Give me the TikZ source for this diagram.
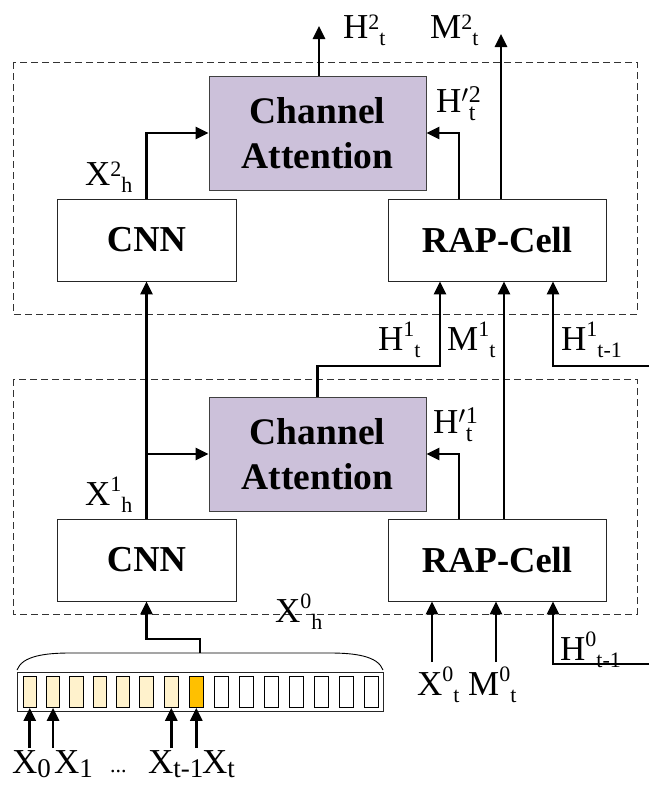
\documentclass[tikz,border=0pt]{standalone}
\usepackage{fontspec}
\setmainfont{Liberation Serif}
\usetikzlibrary{arrows.meta,calc}
\definecolor{cafill}{HTML}{CCC1DA}
\definecolor{seqfill}{HTML}{FFF2CC}
\definecolor{seqcur}{HTML}{FFC000}
\newcommand\ssz{\fontsize{22}{22}\selectfont}
\newcommand\psz{\fontsize{24}{24}\selectfont}
\newcommand\bsz{\fontsize{27}{27}\selectfont}
\newcommand\lbl[3]{#1\raisebox{9pt}{\ssz #2}\raisebox{-7pt}{\ssz #3}}
\newcommand\lblh[3]{#1\raisebox{14pt}{\ssz #2}\raisebox{-7pt}{\ssz #3}}
\newcommand\lblp[3]{#1$'$\rlap{\raisebox{10pt}{\psz #2}}\raisebox{-8pt}{\psz #3}}
\newcommand\lbs[2]{#1\raisebox{-4pt}{\bsz #2}}
\tikzset{
  blk/.style={draw=black!85, line width=0.9pt, fill=white, inner sep=0pt,
    font=\fontsize{36.5}{45}\selectfont\bfseries, align=center},
  cabox/.style={blk, draw=black!75, fill=cafill, font=\fontsize{37.5}{45}\selectfont\bfseries},
  grp/.style={draw=black!80, line width=0.8pt, dash pattern=on 7pt off 4pt},
  arr/.style={line width=2.6pt, -{Triangle[length=13pt,width=12pt]}},
  txt/.style={font=\fontsize{35}{38}\selectfont, inner sep=0pt, anchor=base west},
  cell/.style={draw=black, line width=0.8pt, inner sep=0pt, minimum width=13.3pt, minimum height=31pt}
}
\begin{document}
\begin{tikzpicture}[x=1pt,y=-1pt]
\useasboundingbox (0,0) rectangle (649,788);
% dashed groups
\draw[grp] (13,62) rectangle (637,314);
\draw[grp] (13,379) rectangle (637,614);
% blocks
\node[cabox, minimum width=217pt, minimum height=114pt] (ca1) at (317.5,133) {Channel\\Attention};
\node[blk, minimum width=179pt, minimum height=82pt] (cnn1) at (146.5,240) {CNN};
\node[blk, minimum width=218pt, minimum height=82pt] (rap1) at (497,240) {RAP-Cell};
\node[cabox, minimum width=217pt, minimum height=114pt] (ca2) at (317.5,454) {Channel\\Attention};
\node[blk, minimum width=179pt, minimum height=82pt] (cnn2) at (146.5,560) {CNN};
\node[blk, minimum width=218pt, minimum height=82pt] (rap2) at (497,560) {RAP-Cell};
% helper coordinates
\coordinate (h2) at (319,26);
\coordinate (m2) at (501,34);
\coordinate (hp) at (459,0);
\coordinate (b1) at (440,366);
\coordinate (m1) at (504,0);
\coordinate (hin1) at (649,366);
\coordinate (hx) at (553,0);
\coordinate (xt0) at (432,662);
\coordinate (mt0) at (496,662);
\coordinate (hin0) at (649,664);
% top layer connectors
\draw[arr] (ca1.north -| h2) -- (h2);
\draw[arr] (rap1.north -| m2) -- (m2);
\draw[arr] (rap1.north -| hp) |- (ca1.east);
\draw[arr] (cnn1.north) |- (ca1.west);
% between layers
\draw[arr] (cnn2.north) -- (cnn1.south);
\draw[arr] (cnn2.north |- ca2.west) -- (ca2.west);
\draw[arr] (ca2.north) |- (b1) -- (rap1.south -| b1);
\draw[arr] (rap2.north -| m1) -- (rap1.south -| m1);
\draw[arr] (hin1) -| (rap1.south -| hx);
\draw[arr] (rap2.north -| hp) |- (ca2.east);
% bottom inputs
\draw[arr] (xt0) -- (rap2.south -| xt0);
\draw[arr] (mt0) -- (rap2.south -| mt0);
\draw[arr] (hin0) -| (rap2.south -| hx);
% sequence
\node[draw=black!85, line width=0.8pt, minimum width=366pt, minimum height=39pt, inner sep=0pt] (seq) at (200,691.5) {};
\foreach \x [count=\i from 0] in {22.7,46,69.3,92.7,116,139.3,164.3} {
  \node[cell, fill=seqfill, anchor=north west] (c\i) at (\x,676) {};
}
\node[cell, fill=seqcur, anchor=north west] (c7) at (189.3,676) {};
\foreach \x [count=\i from 8] in {214.3,239.3,264.3,289.3,314.3,339.3,364.3} {
  \node[cell, fill=white, anchor=north west] (c\i) at (\x,676) {};
}
\draw[line width=0.9pt] (17,670) .. controls (22,656) and (45,653) .. (70,653) -- (330,653) .. controls (355,653) and (378,656) .. (383,670);
\coordinate (bt) at (200,653);
\draw[arr] (bt) -- ++(0,-14) -| (cnn2.south);
\coordinate (i0) at (c0.south |- 0,748);
\coordinate (i1) at (c1.south |- 0,748);
\coordinate (i6) at (c6.south |- 0,748);
\coordinate (i7) at (c7.south |- 0,748);
\draw[arr] (i0) -- (c0.south);
\draw[arr] (i1) -- (c1.south);
\draw[arr] (i6) -- (c6.south);
\draw[arr] (i7) -- (c7.south);
% labels
\node[txt] (lh2) at (343,38) {\lbl{H}{2}{t}};
\node[txt] (lm2) at (430,38) {\lbl{M}{2}{t}};
\node[txt] (lhp2) at (436,112) {\lblp{H}{2}{t}};
\node[txt] (lx2) at (85,185) {\lbl{X}{2}{h}};
\node[txt] (lh1) at (378,350) {\lblh{H}{1}{t}};
\node[txt] (lm1) at (447,350) {\lblh{M}{1}{t}};
\node[txt] (lh1m) at (561,350) {\lblh{H}{1}{t-1}};
\node[txt] (lhp1) at (433,433) {\lblp{H}{1}{t}};
\node[txt] (lx1) at (85,505) {\lblh{X}{1}{h}};
\node[txt] (lx0) at (275,622) {\lblh{X}{0}{h}};
\node[txt] (lxt0) at (417,695) {\lblh{X}{0}{t}};
\node[txt] (lmt0) at (468,695) {\lblh{M}{0}{t}};
\node[txt] (lh0m) at (560,660) {\lblh{H}{0}{t-1}};
\node[txt] (sx0) at (12,773) {\lbs{X}{0}};
\node[txt] (sx1) at (54,773) {\lbs{X}{1}};
\node[txt, font=\fontsize{22}{22}\selectfont] (dots) at (110,772) {...};
\node[txt] (sxt1) at (148,773) {\lbs{X}{t-1}};
\node[txt] (sxt) at (202,773) {\lbs{X}{t}};
\end{tikzpicture}
\end{document}
